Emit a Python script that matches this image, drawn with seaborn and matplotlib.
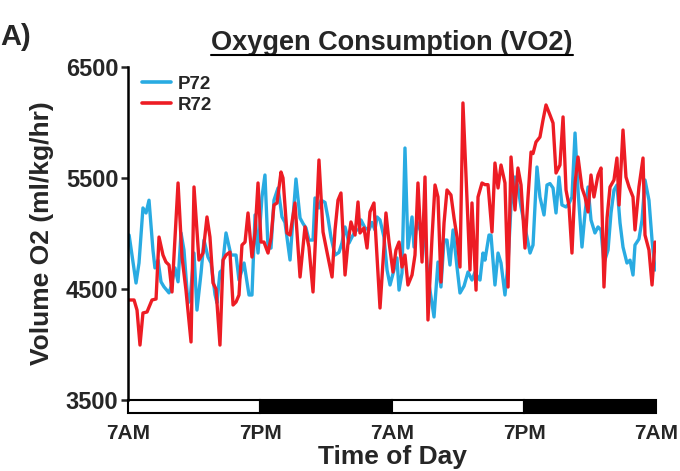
import matplotlib
matplotlib.use("Agg")
import matplotlib.pyplot as plt
import seaborn as sns
import pandas as pd
from matplotlib.patches import Rectangle
from matplotlib.lines import Line2D
import matplotlib.transforms as mtransforms

# ---------------- data ----------------
p72_hours = [0.1, 0.73, 1.0, 1.36, 1.64, 1.91, 2.27, 2.45, 2.73, 3.0, 3.27, 3.73, 3.91, 4.27, 4.55,
             4.82, 5.09, 5.45, 5.64, 6.0, 6.27, 6.64, 6.91, 7.27, 7.55, 7.91, 8.09, 8.36, 8.55, 8.91,
             9.36, 9.82, 10.09, 10.55, 11.0, 11.27, 11.55, 11.82, 12.18, 12.45, 12.73, 13.0, 13.27,
             13.64, 14.0, 14.27, 14.73, 15.0, 15.27, 15.64, 15.91, 16.18, 16.45, 16.82, 17.0, 17.36,
             17.55, 17.91, 18.18, 18.45, 18.82, 19.18, 19.45, 19.73, 20.09, 20.36, 20.73, 21.0, 21.18,
             21.55, 21.91, 22.18, 22.45, 22.64, 22.91, 23.27, 23.55, 23.82, 24.18, 24.45, 24.64, 24.91,
             25.18, 25.45, 25.82, 26.0, 26.27, 26.64, 27.0, 27.27, 27.55, 27.82, 28.18, 28.45, 28.73,
             29.0, 29.27, 29.55, 29.91, 30.18, 30.55, 30.91, 31.27, 31.55, 31.82, 32.0, 32.27, 32.45,
             32.82, 33.0, 33.36, 33.64, 33.91, 34.27, 34.55, 34.82, 35.18, 35.45, 35.73, 36.0, 36.27,
             36.55, 36.82, 37.18, 37.45, 37.82, 38.09, 38.36, 38.64, 38.91, 39.18, 39.45, 39.82, 40.09,
             40.36, 40.64, 40.91, 41.27, 41.55, 41.82, 42.09, 42.45, 42.73, 43.0, 43.27, 43.64, 43.91,
             44.18, 44.45, 44.73, 45.0, 45.36, 45.64, 45.91, 46.09, 46.45, 46.73, 47.0, 47.36, 47.64,
             47.91]
p72_vo2 = [4986, 4554, 4734, 5230, 5185, 5300, 4850, 4690, 4760, 4565, 4520, 4465, 4520, 4690, 4565,
           5005, 4850, 4374, 4400, 4824, 4310, 4644, 4941, 4788, 4734, 4450, 4374, 4653, 4670, 5005,
           4806, 4806, 4581, 4734, 4446, 4446, 5167, 4824, 5329, 5527, 4869, 4869, 5300,
           5410, 5149, 5100, 4761, 5140, 5491, 5140, 5090, 5050, 4941, 4941, 5320, 5230,
           5300, 5280, 5140, 4968, 4806, 4830, 4914, 5059, 4914, 4968, 5032, 5032, 5122,
           5050, 5032, 5100, 5032, 5149, 5122, 4968, 4671, 4536, 4671, 4780, 4490, 4644,
           5770, 4869, 5149, 4878, 5104, 5014, 4968, 4608, 4428, 4248, 4743, 4518, 4941,
           4941, 4716, 5032, 4698, 4464, 4527, 4653, 4581, 4653, 4600, 4581, 4824, 4760,
           4986, 4986, 4536, 4824, 4734, 4446, 4734, 5257, 5509, 5419, 5239, 5100, 4968,
           4824, 4896, 5599, 5329, 5167, 5437, 5450, 5410, 5185, 5509, 5257, 5239, 5270,
           5329, 5905, 5392, 4878, 5185, 5419, 5122, 5005, 5059, 5030, 4734, 4851, 5185,
           5392, 5437, 5095, 4878, 4734, 4760, 4626, 4896, 4950, 5122, 5482, 5300, 4941,
           4671]

r72_hours = [0.09, 0.55, 0.82, 1.09, 1.36, 1.73, 2.18, 2.55, 2.82, 3.18, 3.45, 3.73, 4.0, 4.55, 4.91,
             5.27, 5.73, 6.0, 6.45, 6.82, 7.18, 7.45, 7.73, 8.0, 8.36, 8.64, 8.91, 9.27, 9.55, 9.82,
             10.09, 10.36, 10.64, 10.91, 11.27, 11.55, 11.82, 12.09, 12.36, 12.73, 13.0, 13.27, 13.55,
             13.91, 14.09, 14.45, 14.73, 15.18, 15.64, 16.09, 16.45, 16.82, 17.09, 17.36, 17.73, 18.09,
             18.55, 18.82, 19.09, 19.36, 19.73, 20.0, 20.27, 20.64, 20.91, 21.09, 21.45, 21.73, 22.0,
             22.36, 22.55, 22.91, 23.27, 23.45, 23.73, 24.09, 24.36, 24.64, 24.91, 25.18, 25.45, 25.82,
             26.09, 26.36, 26.73, 27.0, 27.27, 27.64, 27.91, 28.18, 28.45, 28.73, 29.0, 29.36, 29.64,
             29.91, 30.18, 30.45, 30.82, 31.09, 31.27, 31.64, 31.82, 32.18, 32.45, 32.73, 33.09, 33.36,
             33.64, 33.91, 34.27, 34.55, 34.82, 35.18, 35.45, 35.73, 36.09, 36.36, 36.64, 36.82, 37.09,
             37.45, 37.73, 38.0, 38.36, 38.64, 38.91, 39.27, 39.55, 39.82, 40.09, 40.36, 40.64, 40.91,
             41.27, 41.55, 41.82, 42.09, 42.36, 42.73, 43.0, 43.27, 43.55, 43.82, 44.18, 44.45, 44.64,
             45.0, 45.27, 45.55, 45.91, 46.09, 46.45, 46.82, 47.0, 47.36, 47.64, 47.91]
r72_vo2 = [4401, 4401, 4310, 3995, 4284, 4293, 4401, 4410, 4968, 4806, 4743, 4716, 4473, 5455, 4788,
           4490, 4023, 5419, 4761, 4824, 5149, 4968, 4554, 4500, 3995, 4761, 4806, 4833, 4356, 4383,
           4446, 4896, 4923, 5185, 4788, 5005, 5455, 4923, 4923, 4824, 4959, 5257, 5275,
           5554, 5500, 5005, 4986, 5275, 4608, 5060, 4878, 4473, 5050, 5662, 5014, 4833,
           4608, 5032, 5300, 5365, 4626, 4914, 5104, 4986, 5284, 5005, 5050, 4869, 5194,
           5275, 4941, 4329, 4878, 5185, 4923, 4653, 4851, 4923, 4698, 4806, 4536, 4626,
           4806, 5455, 4743, 5509, 4221, 4968, 5437, 5329, 4563, 5095, 5392, 5347, 5140,
           4968, 4698, 6176, 5300, 4671, 5275, 4490, 5329, 5455, 5440, 5440, 5014, 5635,
           5410, 5617, 5455, 4518, 5689, 5212, 5590, 5437, 4869, 5320, 5734, 5720, 5824,
           5869, 6023, 6158, 6068, 5995, 5545, 5617, 6050, 5392, 5250, 4824, 5455, 5689,
           5410, 5329, 5194, 5527, 5329, 5527, 5590, 4518, 5140, 5419, 5482, 5680, 5257,
           5932, 5509, 5419, 5329, 5032, 5419, 5680, 4986, 4851, 4536, 4923]

series_names = ["P72", "R72"]
series_colors = ["#29abe2", "#ed1c24"]
y_ticks = [3500, 4500, 5500, 6500]
x_ticks = [0, 12, 24, 36, 48]
x_ticklabels = ["7AM", "7PM", "7AM", "7PM", "7AM"]
light_dark = [(0, 12, "white"), (12, 24, "black"), (24, 36, "white"), (36, 48, "black")]

df = pd.concat([
    pd.DataFrame({"hour": p72_hours, "vo2": p72_vo2, "group": "P72"}),
    pd.DataFrame({"hour": r72_hours, "vo2": r72_vo2, "group": "R72"}),
], ignore_index=True)

# ---------------- style ----------------
sns.set_theme(style="ticks")
plt.rcParams["font.family"] = ["Liberation Sans", "DejaVu Sans"]
plt.rcParams["font.weight"] = "bold"

fig = plt.figure(figsize=(6.8, 4.71), dpi=100)
ax = fig.add_axes([128 / 680, 1 - 400 / 471, (656 - 128) / 680, (400 - 67) / 471])

sns.lineplot(data=df, x="hour", y="vo2", hue="group", hue_order=series_names,
             palette=series_colors, linewidth=2.4, estimator=None, ax=ax)

ax.set_xlim(0, 48)
ax.set_ylim(3500, 6500)
ax.set_yticks(y_ticks)
ax.set_yticklabels([str(v) for v in y_ticks], fontsize=17, fontweight="bold")
ax.set_xticks(x_ticks)
ax.set_xticklabels(x_ticklabels, fontsize=15, fontweight="bold")
ax.tick_params(axis="x", length=0, pad=17)
ax.tick_params(axis="y", length=5, width=1.8, pad=2, direction="out")

for s in ["top", "right", "bottom"]:
    ax.spines[s].set_visible(False)
ax.spines["left"].set_linewidth(1.8)
ax.spines["left"].set_color("black")

# light / dark bar beneath the axis
trans = mtransforms.blended_transform_factory(ax.transData, ax.transAxes)
for start, end, col in light_dark:
    ax.add_patch(Rectangle((start, -0.04), end - start, 0.04, transform=trans,
                           facecolor=col, edgecolor="black", linewidth=1.5, clip_on=False))

ax.set_xlabel("Time of Day", fontsize=19, fontweight="bold")
ax.xaxis.set_label_coords(0.5, -0.135)
ax.set_ylabel("Volume O2 (ml/kg/hr)", fontsize=19, fontweight="bold")
ax.yaxis.set_label_coords(-0.14, 0.5)

title = ax.set_title("Oxygen Consumption (VO2)", fontsize=19.5, fontweight="bold", pad=12)
fig.text(0.0, 1 - 45 / 471, "A)", fontsize=21, fontweight="bold")

leg = ax.legend(loc="upper left", bbox_to_anchor=(-0.005, 1.025), frameon=False,
                handlelength=1.55, handletextpad=0.35, labelspacing=0.2,
                prop={"size": 13.5, "weight": "bold"})
for line in leg.get_lines():
    line.set_linewidth(2.6)

# underline the title
fig.canvas.draw()
bb = title.get_window_extent(renderer=fig.canvas.get_renderer())
fig.add_artist(Line2D([bb.x0, bb.x1], [bb.y0 + 1, bb.y0 + 1], transform=None,
                      color="black", linewidth=1.5))

fig.savefig("out.png", dpi=100)
